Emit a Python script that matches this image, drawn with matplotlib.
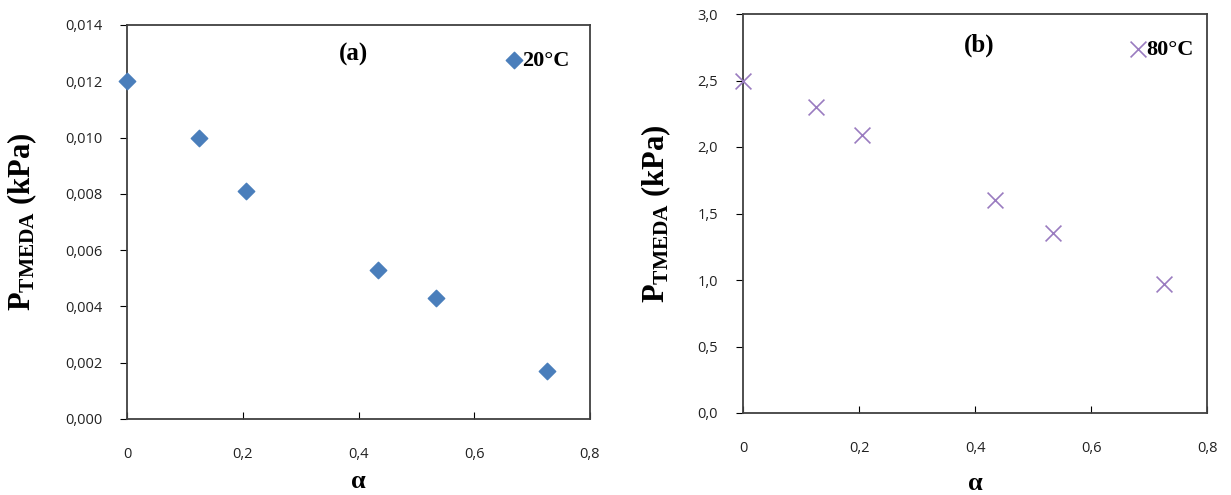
import numpy as np
import matplotlib.pyplot as plt

alpha = [0, 0.125, 0.205, 0.434, 0.534, 0.725]
p_20 = [0.0120, 0.0100, 0.0081, 0.0053, 0.0043, 0.0017]
p_80 = [2.50, 2.30, 2.09, 1.60, 1.35, 0.97]

xticks = [0, 0.2, 0.4, 0.6, 0.8]
xtick_labels = ["0", "0,2", "0,4", "0,6", "0,8"]
yticks_a = [0, 0.002, 0.004, 0.006, 0.008, 0.010, 0.012, 0.014]
yticks_b = [0, 0.5, 1.0, 1.5, 2.0, 2.5, 3.0]

plt.rcParams['mathtext.fontset'] = 'custom'
plt.rcParams['mathtext.bf'] = 'Liberation Serif:bold'
plt.rcParams['mathtext.rm'] = 'Liberation Serif:bold'

fig = plt.figure(figsize=(12.31, 4.95), dpi=100)
ax1 = fig.add_axes([127/1231, 1-419/495, 463/1231, 394/495])
ax2 = fig.add_axes([743/1231, 1-413/495, 464/1231, 399/495])

serif = dict(family="Liberation Serif", weight="bold")
tickfont = "Open Sans"

def style(ax, yticks, fmt, xpad):
    ax.set_xlim(0, 0.8)
    ax.set_ylim(yticks[0], yticks[-1])
    ax.set_xticks(xticks)
    ax.set_xticklabels(xtick_labels)
    ax.set_yticks(yticks)
    ax.set_yticklabels([fmt.format(v).replace(".", ",") for v in yticks])
    ax.tick_params(axis="x", direction="in", length=5, pad=20, labelsize=10.5)
    ax.tick_params(axis="y", direction="out", length=5, pad=13, labelsize=10.5)
    for lab in ax.get_xticklabels() + ax.get_yticklabels():
        lab.set_family(tickfont)
        lab.set_color("#222222")
    for s in ax.spines.values():
        s.set_color("#404040")
        s.set_linewidth(1.3)
    ax.set_xlabel(r"$\mathbf{\alpha}$", fontsize=19, labelpad=xpad)
    ax.set_ylabel(r"$\mathbf{P_{TMEDA}}$ (kPa)", fontsize=22, **serif)

ax1.scatter(alpha, p_20, marker="D", s=70, color="#4a7ebb", clip_on=False, zorder=3, label="20°C")
style(ax1, yticks_a, "{:.3f}", 4.5)
ax1.text(0.49, 0.924, "(a)", transform=ax1.transAxes, fontsize=18, ha="center", va="center", **serif)
ax1.legend(loc="upper right", bbox_to_anchor=(0.99, 0.975), frameon=False, handletextpad=-0.1,
           handlelength=1.0, borderaxespad=0.3, prop=dict(family="Liberation Serif", weight="bold", size=16))

ax2.scatter(alpha, p_80, marker="x", s=130, color="#9a7cc0", linewidths=1.2, clip_on=False, zorder=3, label="80°C")
style(ax2, yticks_b, "{:.1f}", 10)
ax2.text(0.51, 0.922, "(b)", transform=ax2.transAxes, fontsize=18, ha="center", va="center", **serif)
ax2.legend(loc="upper right", bbox_to_anchor=(1.005, 0.975), frameon=False, handletextpad=-0.1,
           handlelength=1.0, borderaxespad=0.3, prop=dict(family="Liberation Serif", weight="bold", size=16))

ax1.yaxis.set_label_coords(-0.19, 0.5)
ax2.yaxis.set_label_coords(-0.151, 0.5)

fig.savefig("out.png", dpi=100)
